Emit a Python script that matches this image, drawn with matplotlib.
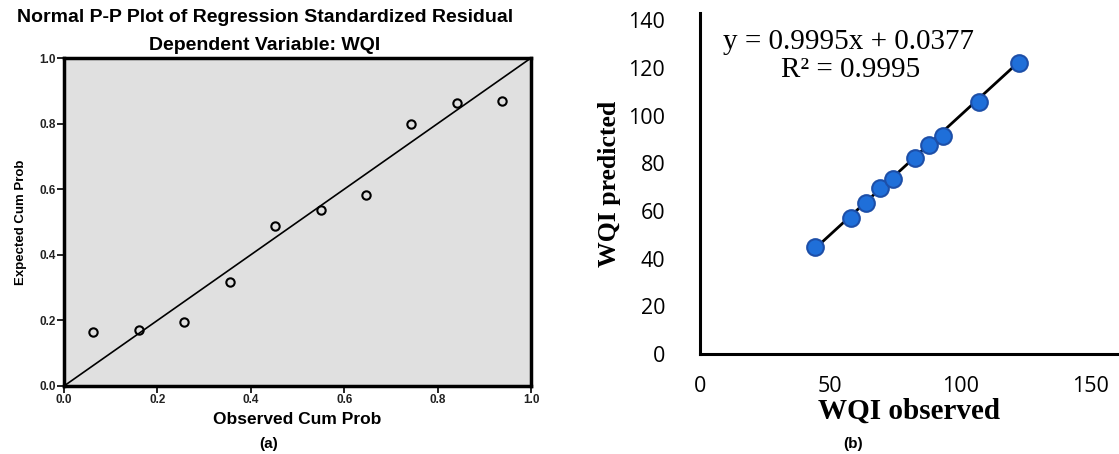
import matplotlib
matplotlib.use("Agg")
import matplotlib.pyplot as plt

# (a) normal P-P plot of standardized residuals
obs_cum = [0.062, 0.160, 0.257, 0.355, 0.452, 0.550, 0.647, 0.743, 0.842, 0.938]
exp_cum = [0.166, 0.172, 0.195, 0.317, 0.487, 0.538, 0.582, 0.800, 0.862, 0.870]
pp_ticks = [0.0, 0.2, 0.4, 0.6, 0.8, 1.0]

# (b) observed vs predicted WQI
wqi_obs = [44.2, 58.1, 63.8, 69.2, 74.2, 82.7, 88.1, 93.5, 107.3, 122.7]
wqi_pred = [44.7, 57.2, 63.2, 69.5, 73.2, 82.0, 87.5, 91.5, 105.8, 122.0]
slope, intercept = 0.9995, 0.0377
xt = [0, 50, 100, 150]
yt = [0, 20, 40, 60, 80, 100, 120, 140]

fig = plt.figure(figsize=(11.19, 4.54), dpi=100)

# ---- left panel (SPSS style)
ax1 = fig.add_axes([64/1119, 68/454, 467/1119, 328/454])
ax1.set_facecolor('#e0e0e0')
ax1.plot([0, 1], [0, 1], color='black', lw=1.2)
ax1.plot(obs_cum, exp_cum, 'o', mfc='none', mec='black', mew=1.5, ms=6)
ax1.set_xlim(0, 1)
ax1.set_ylim(0, 1)
ax1.set_xticks(pp_ticks)
ax1.set_yticks(pp_ticks)
ax1.set_xticklabels(['%.1f' % t for t in pp_ticks], fontsize=8.5, fontweight='bold',
                    family='Liberation Sans', color='#222222')
ax1.set_yticklabels(['%.1f' % t for t in pp_ticks], fontsize=8.5, fontweight='bold',
                    family='Liberation Sans', color='#222222')
ax1.tick_params(length=5, width=1.2, pad=1)
for s in ax1.spines.values():
    s.set_linewidth(2.5)
ax1.set_xlabel('Observed Cum Prob', fontsize=12.5, fontweight='bold', family='Liberation Sans', labelpad=4)
ax1.set_ylabel('Expected Cum Prob', fontsize=9.5, fontweight='bold', family='Liberation Sans', labelpad=9)
fig.text(265/1119, 1 - 18/454, 'Normal P-P Plot of Regression Standardized Residual',
         ha='center', va='center', fontsize=14, fontweight='bold', family='Liberation Sans')
fig.text(265/1119, 1 - 45/454, 'Dependent Variable: WQI',
         ha='center', va='center', fontsize=14, fontweight='bold', family='Liberation Sans')
fig.text(269/1119, 1 - 444/454, '(a)', ha='center', va='center', fontsize=11,
         fontweight='bold', family='Liberation Sans')

# ---- right panel (Excel style)
ax2 = fig.add_axes([700/1119, 100/454, 419/1119, 341/454])
ax2.set_xlim(0, 161)
ax2.set_ylim(0, 143)
xs = [min(wqi_obs), max(wqi_obs)]
ax2.plot(xs, [slope * v + intercept for v in xs], color='black', lw=2, zorder=2)
ax2.plot(wqi_obs, wqi_pred, 'o', ms=12, mfc='#1f6fd9', mec='#1d4fa8', mew=1.5, zorder=3)
ax2.spines['top'].set_visible(False)
ax2.spines['right'].set_visible(False)
ax2.spines['left'].set_linewidth(2.2)
ax2.spines['bottom'].set_linewidth(2.2)
ax2.set_xticks(xt)
ax2.set_yticks(yt)
ax2.set_xticklabels([str(v) for v in xt], fontsize=15.5, family='Open Sans')
ax2.set_yticklabels([str(v) for v in yt], fontsize=15.5, family='Open Sans')
ax2.tick_params(axis='x', length=0, pad=16)
ax2.tick_params(axis='y', length=0, pad=25)
ax2.set_xlabel('WQI observed', fontsize=21, fontweight='bold', family='Liberation Serif', labelpad=0)
ax2.set_ylabel('WQI predicted', fontsize=18.5, fontweight='bold', family='Liberation Serif', labelpad=5)
ax2.text(57, 131, 'y = 0.9995x + 0.0377', ha='center', va='center', fontsize=21, family='Liberation Serif')
ax2.text(58, 119, 'R² = 0.9995', ha='center', va='center', fontsize=21, family='Liberation Serif')
fig.text(853/1119, 1 - 444/454, '(b)', ha='center', va='center', fontsize=11,
         fontweight='bold', family='Liberation Sans')

fig.savefig('out.png', dpi=100)
